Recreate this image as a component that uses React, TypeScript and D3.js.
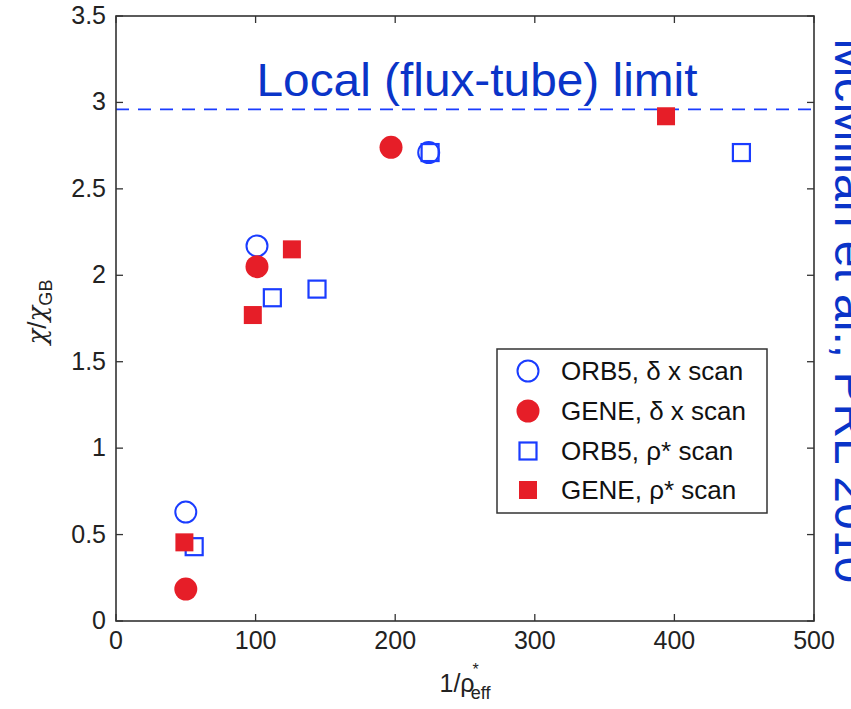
import React from "react";
import * as d3 from "d3";

const orb5DxX = [50, 101, 224];
const orb5DxY = [0.63, 2.17, 2.71];
const geneDxX = [50, 101, 197];
const geneDxY = [0.185, 2.05, 2.74];
const orb5RhoX = [56, 112, 144, 225, 448];
const orb5RhoY = [0.43, 1.87, 1.92, 2.71, 2.71];
const geneRhoX = [49, 98, 126, 394];
const geneRhoY = [0.455, 1.77, 2.15, 2.92];
const localLimit = 2.96;
const xTicks = [0, 100, 200, 300, 400, 500];
const yTicks = [0, 0.5, 1, 1.5, 2, 2.5, 3, 3.5];
const legendLabels = ["ORB5, δ x scan", "GENE, δ x scan", "ORB5, ρ* scan", "GENE, ρ* scan"];

const RED = "#e61e28";
const BLUE = "#1a3cff";
const TEXTBLUE = "#0a34c8";
const AXIS = "#333";
const FONT = "'Liberation Sans', Arial, Helvetica, sans-serif";

export default function App() {
  const x = d3.scaleLinear().domain([0, 500]).range([116, 814]);
  const y = d3.scaleLinear().domain([0, 3.5]).range([621, 16]);
  const [x0, x1] = x.range();
  const [y0, y1] = y.range();
  const tl = 7;
  const sq = 17;

  const openCircle = (cx: number, cy: number, k: string) => (
    <circle key={k} cx={cx} cy={cy} r={10.5} fill="none" stroke={BLUE} strokeWidth={2} />
  );
  const fillCircle = (cx: number, cy: number, k: string) => (
    <circle key={k} cx={cx} cy={cy} r={11.5} fill={RED} />
  );
  const openSquare = (cx: number, cy: number, k: string) => (
    <rect key={k} x={cx - sq / 2} y={cy - sq / 2} width={sq} height={sq} fill="none" stroke={BLUE} strokeWidth={2.2} />
  );
  const fillSquare = (cx: number, cy: number, k: string) => (
    <rect key={k} x={cx - 9} y={cy - 9} width={18} height={18} fill={RED} />
  );

  const legendX = 497;
  const legendTop = 349;
  const legendBottom = 513;
  const legendRight = 767;
  const rowY = [371, 411, 451, 490];
  const markerX = 528;
  const makers = [openCircle, fillCircle, openSquare, fillSquare];

  return (
    <svg
      width={851}
      height={709}
      style={{ position: "absolute", left: 0, top: 0, background: "#fff" }}
      fontFamily={FONT}
    >
      <rect x={0} y={0} width={851} height={709} fill="#fff" />
      {/* ticks */}
      {xTicks.map((t) => (
        <g key={"xt" + t}>
          <line x1={x(t)} x2={x(t)} y1={y0} y2={y0 - tl} stroke={AXIS} strokeWidth={1.3} />
          <line x1={x(t)} x2={x(t)} y1={y1} y2={y1 + tl} stroke={AXIS} strokeWidth={1.3} />
          <text x={x(t)} y={649} textAnchor="middle" fontSize={25} fill="#222">
            {t}
          </text>
        </g>
      ))}
      {yTicks.map((t) => (
        <g key={"yt" + t}>
          <line x1={x0} x2={x0 + tl} y1={y(t)} y2={y(t)} stroke={AXIS} strokeWidth={1.3} />
          <line x1={x1} x2={x1 - tl} y1={y(t)} y2={y(t)} stroke={AXIS} strokeWidth={1.3} />
          <text x={106} y={y(t) + 8} textAnchor="end" fontSize={25} fill="#222">
            {String(t)}
          </text>
        </g>
      ))}
      {/* local limit */}
      <line
        x1={x0}
        x2={x1}
        y1={y(localLimit)}
        y2={y(localLimit)}
        stroke={BLUE}
        strokeWidth={1.6}
        strokeDasharray="13 9"
      />
      <text x={477} y={96} textAnchor="middle" fontSize={46} fill={TEXTBLUE} textLength={441} lengthAdjust="spacingAndGlyphs">
        Local (flux-tube) limit
      </text>
      {/* data */}
      {orb5DxX.map((v, i) => openCircle(x(v), y(orb5DxY[i]), "oc" + i))}
      {geneDxX.map((v, i) => fillCircle(x(v), y(geneDxY[i]), "fc" + i))}
      {orb5RhoX.map((v, i) => openSquare(x(v), y(orb5RhoY[i]), "os" + i))}
      {geneRhoX.map((v, i) => fillSquare(x(v), y(geneRhoY[i]), "fs" + i))}
      {/* legend */}
      <rect
        x={legendX}
        y={legendTop}
        width={legendRight - legendX}
        height={legendBottom - legendTop}
        fill="#fff"
        stroke={AXIS}
        strokeWidth={1.5}
      />
      {legendLabels.map((lab, i) => (
        <g key={"lg" + i}>
          {makers[i](markerX, rowY[i], "lm" + i)}
          <text x={561} y={rowY[i] + 9} fontSize={26} fill="#111">
            {lab}
          </text>
        </g>
      ))}
      {/* axes box */}
      <rect x={x0} y={y1} width={x1 - x0} height={y0 - y1} fill="none" stroke={AXIS} strokeWidth={1.6} />
      {/* axis titles */}
      <text transform="translate(46,312) rotate(-90)" textAnchor="middle" fontSize={26} fill="#222">
        <tspan fontFamily="'DejaVu Serif', serif" fontStyle="italic">χ</tspan>
        <tspan>/</tspan>
        <tspan fontFamily="'DejaVu Serif', serif" fontStyle="italic">χ</tspan>
        <tspan fontSize={18} dy={6}>GB</tspan>
      </text>
      <text x={465} y={692} textAnchor="middle" fontSize={25} fill="#222">
        <tspan>1/ρ</tspan>
        <tspan fontSize={16} dy={-17} dx={-2}>*</tspan>
        <tspan fontSize={18} dy={24} dx={-8}>eff</tspan>
      </text>
      {/* citation */}
      <text transform="translate(835,38) rotate(90)" fontSize={48} fill={TEXTBLUE}>
        McMillan et al., PRL 2010
      </text>
    </svg>
  );
}
